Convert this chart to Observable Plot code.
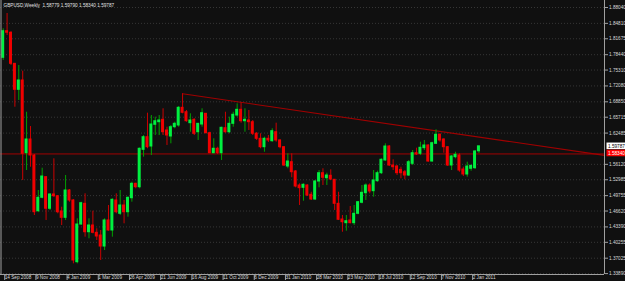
<!DOCTYPE html>
<html><head><meta charset="utf-8">
<script src="https://cdn.jsdelivr.net/npm/d3@7"></script>
<script src="https://cdn.jsdelivr.net/npm/@observablehq/plot@0.6"></script>
<style>
html,body{margin:0;padding:0;background:#101010;overflow:hidden}
#chart{width:625px;height:281px}
</style></head><body><div id="chart"></div>
<script>
// ---- data (GBPUSD weekly candles, first week 14 Sep 2008) ----
const firstWeek = "2008-09-14";
const opens = [1.7780,1.8322,1.8290,1.7658,1.7129,1.7319,1.5839,1.6118,1.5792,1.4659,
1.4932,1.5351,1.4708,1.4999,1.4964,1.4653,1.4524,1.5080,1.4877,1.3621,
1.4388,1.4809,1.4231,1.4368,1.4219,1.4164,1.3940,1.4470,1.4266,1.4877,
1.4606,1.4775,1.4638,1.4923,1.5216,1.5147,1.5908,1.6165,1.5975,1.6417,
1.6470,1.6519,1.6301,1.6179,1.6368,1.6403,1.6763,1.6673,1.6450,1.6519,
1.6266,1.6423,1.6641,1.6246,1.5839,1.5929,1.5839,1.6348,1.6266,1.6437,
1.6606,1.6722,1.6490,1.6505,1.6470,1.6234,1.6132,1.5961,1.6132,1.6083,
1.6266,1.6098,1.5961,1.5568,1.5656,1.5467,1.5182,1.5135,1.5182,1.4993,
1.4897,1.5263,1.5432,1.5330,1.5379,1.5298,1.4809,1.4490,1.4415,1.4470,
1.4415,1.4606,1.4830,1.5025,1.5182,1.5066,1.5269,1.5432,1.5691,1.5975,
1.5589,1.5568,1.5500,1.5452,1.5385,1.5623,1.5839,1.5827,1.5941,1.5996,
1.5670,1.6030,1.6214,1.6118,1.5961,1.5589,1.5758,1.5792,1.5507,1.5406,
1.5522,1.5534,1.5878];
const highs = [1.8371,1.8682,1.8310,1.7664,1.7624,1.7508,1.6673,1.6382,1.5813,1.5080,
1.5534,1.5365,1.5013,1.5725,1.4978,1.4740,1.5385,1.5100,1.4897,1.4504,
1.4842,1.5013,1.4504,1.4659,1.4301,1.4266,1.4504,1.4775,1.4911,1.5013,
1.5080,1.4877,1.4944,1.5249,1.5229,1.5945,1.6199,1.6653,1.6606,1.6572,
1.6606,1.6743,1.6368,1.6403,1.6470,1.6789,1.7048,1.6708,1.6641,1.6539,
1.6444,1.6743,1.6647,1.6266,1.6132,1.5961,1.6368,1.6673,1.6572,1.6673,
1.6844,1.6865,1.6743,1.6708,1.6505,1.6260,1.6234,1.6165,1.6199,1.6336,
1.6450,1.6112,1.5975,1.5827,1.5827,1.5487,1.5216,1.5216,1.5196,1.5045,
1.5284,1.5487,1.5522,1.5432,1.5501,1.5300,1.5045,1.4571,1.4571,1.4754,
1.4775,1.4856,1.5182,1.5216,1.5216,1.5487,1.5473,1.5725,1.6030,1.5996,
1.5705,1.5589,1.5554,1.5487,1.5691,1.5894,1.5941,1.6063,1.6098,1.6010,
1.6063,1.6315,1.6234,1.6132,1.5975,1.5792,1.5859,1.5827,1.5554,1.5656,
1.5589,1.5894,1.5979];
const lows = [1.7726,1.8234,1.7624,1.6775,1.6912,1.5284,1.5487,1.5554,1.4571,1.4630,
1.4911,1.4470,1.4673,1.4938,1.4606,1.4368,1.4470,1.4842,1.3588,1.3588,
1.4368,1.4130,1.4097,1.4199,1.4063,1.3656,1.3859,1.4252,1.4130,1.4606,
1.4571,1.4402,1.4537,1.4842,1.5115,1.5115,1.5758,1.5929,1.5792,1.6199,
1.6199,1.6199,1.5996,1.6030,1.6336,1.6368,1.6641,1.6470,1.6266,1.6199,
1.6098,1.6368,1.6234,1.5827,1.5827,1.5813,1.5691,1.6246,1.6234,1.6368,
1.6572,1.6450,1.6266,1.6301,1.6199,1.6098,1.5929,1.5859,1.6057,1.6063,
1.6063,1.5929,1.5568,1.5522,1.5339,1.5135,1.4775,1.4862,1.4958,1.4877,
1.4877,1.5135,1.5182,1.5182,1.5284,1.4673,1.4470,1.4231,1.4252,1.4402,
1.4368,1.4586,1.4809,1.4877,1.5013,1.4944,1.5249,1.5406,1.5676,1.5568,
1.5487,1.5385,1.5318,1.5298,1.5365,1.5589,1.5792,1.5792,1.5894,1.5656,
1.5656,1.6016,1.6063,1.5839,1.5568,1.5487,1.5725,1.5452,1.5365,1.5351,
1.5473,1.5507,1.5834];
const closes = [1.8322,1.8290,1.7658,1.7129,1.7319,1.5827,1.6118,1.5792,1.4638,1.4932,
1.5365,1.4708,1.4999,1.4964,1.4638,1.4524,1.5080,1.4877,1.3656,1.4388,
1.4822,1.4231,1.4368,1.4219,1.4144,1.3940,1.4470,1.4266,1.4891,1.4638,
1.4775,1.4638,1.4932,1.5216,1.5147,1.5929,1.6165,1.5961,1.6423,1.6490,
1.6505,1.6266,1.6199,1.6368,1.6437,1.6763,1.6661,1.6490,1.6505,1.6234,
1.6437,1.6653,1.6246,1.5839,1.5929,1.5839,1.6356,1.6266,1.6437,1.6621,
1.6722,1.6490,1.6519,1.6470,1.6234,1.6132,1.5961,1.6132,1.6098,1.6287,
1.6098,1.5961,1.5589,1.5670,1.5452,1.5161,1.5127,1.5196,1.4978,1.4897,
1.5263,1.5432,1.5339,1.5385,1.5304,1.4809,1.4484,1.4435,1.4455,1.4415,
1.4606,1.4842,1.5033,1.5182,1.5060,1.5284,1.5432,1.5705,1.5975,1.5589,
1.5554,1.5432,1.5432,1.5385,1.5656,1.5839,1.5813,1.5949,1.5996,1.5670,
1.6043,1.6214,1.6098,1.5961,1.5589,1.5772,1.5807,1.5487,1.5406,1.5568,
1.5583,1.5874,1.5979];

const yTickLabels = ["1.88040","1.84810","1.81675","1.78440","1.75310","1.72080","1.68850","1.65715","1.62485",
  "1.56120","1.52985","1.49755","1.46620","1.43390","1.40255","1.37025","1.33890"];
const xTickLabels = ["14 Sep 2008","9 Nov 2008","4 Jan 2009","1 Mar 2009","26 Apr 2009","21 Jun 2009","16 Aug 2009",
  "11 Oct 2009","6 Dec 2009","31 Jan 2010","28 Mar 2010","23 May 2010","18 Jul 2010","12 Sep 2010","7 Nov 2010","2 Jan 2011"];
const trendDates = ["2009-08-02","2010-10-31"];
const trendPrices = [1.7048, 1.6295];
const hLinePrice = 1.5834;
const lastPrice = 1.59787;
const titleText = "GBPUSD,Weekly  1.58779 1.59790 1.58340 1.59787";

// ---- build ----
const start = new Date(firstWeek + "T00:00:00Z");
const candles = opens.map((o, i) => ({
  date: d3.utcWeek.offset(start, i), open: o, high: highs[i], low: lows[i], close: closes[i]
}));
const WEEK = 7 * 864e5;
const xDomain = [new Date(+start - 0.69 * WEEK), new Date(+start + 154.2 * WEEK)];
const yDomain = [1.33706, 1.89465];
const plotRight = 604;
const xs = d3.scaleUtc().domain(xDomain).range([0, plotRight]);

const yTicks = yTickLabels.map(Number);
const xTicks = xTickLabels.map(s => d3.utcParse("%d %b %Y")(s));

// trend line ray extended to right edge
const t0 = new Date(trendDates[0] + "T00:00:00Z"), t1 = new Date(trendDates[1] + "T00:00:00Z");
const slope = (trendPrices[1] - trendPrices[0]) / (t1 - t0);
const trend = [
  {date: t0, price: trendPrices[0]},
  {date: xDomain[1], price: trendPrices[0] + slope * (xDomain[1] - t0)}
];

const boxX1 = xs.invert(plotRight + 2.5), boxX2 = xs.invert(625);
const priceBoxes = [
  {x1: boxX1, x2: boxX2, y: lastPrice, bg: "#ffffff", fg: "#000000", label: lastPrice.toFixed(5)},
  {x1: boxX1, x2: boxX2, y: hLinePrice, bg: "#ff0000", fg: "#ffffff", label: hLinePrice.toFixed(5)}
];

const up = d => d.close >= d.open;
const FONT = "'Liberation Sans', Arial, sans-serif";

const chart = Plot.plot({
  width: 625, height: 281,
  marginTop: 0, marginRight: 21, marginBottom: 7, marginLeft: 0,
  style: {background: "#101010", fontFamily: FONT, fontSize: "4.7px", color: "#d8d8d8", overflow: "visible"},
  x: {type: "utc", domain: xDomain, axis: null},
  y: {domain: yDomain, axis: null},
  color: {type: "identity"},
  marks: [
    Plot.ruleY(yTicks, {stroke: "#363636", strokeDasharray: "1,2"}),
    Plot.ruleY([hLinePrice], {stroke: "#a00000", dy: 0.5}),
    Plot.line(trend, {x: "date", y: "price", stroke: "#a00000", strokeWidth: 1.1}),
    Plot.ruleX(candles, {x: "date", y1: "low", y2: "high", stroke: d => up(d) ? "#00a000" : "#cc0000"}),
    Plot.rect(candles, {x1: "date", x2: "date", y1: "open", y2: "close",
      insetLeft: -1.5, insetRight: -1.5, insetTop: -0.5, insetBottom: -0.5,
      fill: d => up(d) ? "#00f040" : "#f00000"}),
    Plot.ruleX([xDomain[0]], {stroke: "#a0a0a0", dx: 0.5}),
    Plot.ruleX([xDomain[1]], {stroke: "#a0a0a0"}),
    Plot.ruleY([yDomain[0]], {stroke: "#a0a0a0"}),
    Plot.axisY(yTicks, {anchor: "right", tickSize: 3, tickPadding: 1.5, tickFormat: d => d.toFixed(5),
      stroke: "#a0a0a0", fill: "#d8d8d8", fontSize: 4.7}),
    Plot.axisX(xTicks, {anchor: "bottom", tickSize: 6, tickPadding: -4.5,
      tickFormat: (d, i) => xTickLabels[i], textAnchor: "start", dx: 1.5,
      stroke: "#a0a0a0", fill: "#d8d8d8", fontSize: 4.7}),
    Plot.rect(priceBoxes, {x1: "x1", x2: "x2", y1: "y", y2: "y", insetTop: -3.3, insetBottom: -3.3, fill: "bg"}),
    Plot.text(priceBoxes, {x: "x1", y: "y", text: "label", fill: "fg", textAnchor: "start", dx: 1, fontSize: 4.7}),
    Plot.text([titleText], {frameAnchor: "top-left", dx: 3, dy: 3, lineAnchor: "top", textAnchor: "start",
      fill: "#e0e0e0", fontSize: 4.7})
  ]
});
document.getElementById("chart").append(chart);
</script></body></html>
